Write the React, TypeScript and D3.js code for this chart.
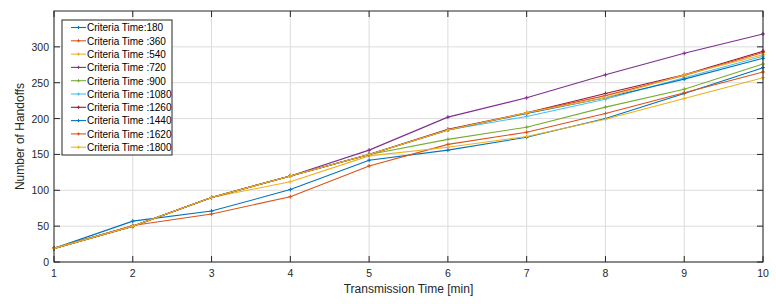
import React from "react";
import * as d3 from "d3";

const xValues = [1, 2, 3, 4, 5, 6, 7, 8, 9, 10];
const seriesNames = [
  "Criteria Time:180",
  "Criteria Time :360",
  "Criteria Time :540",
  "Criteria Time :720",
  "Criteria Time :900",
  "Criteria Time :1080",
  "Criteria Time :1260",
  "Criteria Time :1440",
  "Criteria Time :1620",
  "Criteria Time :1800",
];
const s180 = [19, 57, 71, 101, 142, 156, 174, 200, 235, 271];
const s360 = [19, 51, 67, 91, 134, 164, 181, 207, 236, 265];
const s540 = [19, 50, 90, 112, 148, 160, 175, 199, 228, 257];
const s720 = [19, 50, 90, 120, 156, 202, 229, 261, 291, 318];
const s900 = [19, 50, 90, 120, 150, 171, 188, 216, 241, 276];
const s1080 = [19, 50, 90, 120, 150, 184, 203, 227, 257, 287];
const s1260 = [19, 50, 90, 120, 150, 185, 208, 235, 261, 294];
const s1440 = [19, 50, 90, 120, 150, 184, 207, 229, 255, 284];
const s1620 = [19, 50, 90, 120, 150, 184, 208, 232, 260, 292];
const s1800 = [19, 50, 90, 120, 150, 184, 208, 229, 261, 289];
const seriesValues = [s180, s360, s540, s720, s900, s1080, s1260, s1440, s1620, s1800];
const colors = [
  "#0072BD", "#D95319", "#EDB120", "#7E2F8E", "#77AC30",
  "#4DBEEE", "#A2142F", "#0072BD", "#D95319", "#EDB120",
];
const yTicks = [0, 50, 100, 150, 200, 250, 300];

export default function App() {
  const W = 776, H = 304;
  const left = 54, right = 763, top = 11, bottom = 262;
  const x = d3.scaleLinear().domain([1, 10]).range([left, right]);
  const y = d3.scaleLinear().domain([0, 350]).range([bottom, top]);
  const line = d3.line<number>().x((_, i) => x(xValues[i])).y((d) => y(d));
  const font = "Liberation Sans, Arial, Helvetica, sans-serif";
  const axisColor = "#262626";
  const legX = 62, legY = 20, legW = 110, legRow = 13.3;

  const marker = (cx: number, cy: number, c: string, k: string, r = 2) => (
    <g key={k} stroke={c} strokeWidth={1}>
      <line x1={cx - r} x2={cx + r} y1={cy} y2={cy} />
      <line x1={cx} x2={cx} y1={cy - r} y2={cy + r} />
    </g>
  );

  return (
    <svg width={W} height={H} style={{ position: "absolute", left: 0, top: 0, background: "#fff" }} fontFamily={font}>
      <rect x={0} y={0} width={W} height={H} fill="#fff" />
      {xValues.map((v) => (
        <line key={"gx" + v} x1={x(v)} x2={x(v)} y1={top} y2={bottom} stroke="#dcdcdc" strokeWidth={1} />
      ))}
      {yTicks.map((v) => (
        <line key={"gy" + v} x1={left} x2={right} y1={y(v)} y2={y(v)} stroke="#dcdcdc" strokeWidth={1} />
      ))}
      {seriesValues.map((vals, si) => (
        <g key={"s" + si}>
          <path d={line(vals) || ""} fill="none" stroke={colors[si]} strokeWidth={1.1} />
          {vals.map((v, i) => marker(x(xValues[i]), y(v), colors[si], "m" + si + "_" + i))}
        </g>
      ))}
      <rect x={left} y={top} width={right - left} height={bottom - top} fill="none" stroke={axisColor} strokeWidth={1} />
      {xValues.map((v) => (
        <g key={"tx" + v}>
          <line x1={x(v)} x2={x(v)} y1={bottom} y2={bottom - 6} stroke={axisColor} />
          <line x1={x(v)} x2={x(v)} y1={top} y2={top + 6} stroke={axisColor} />
          <text x={x(v)} y={bottom + 15} textAnchor="middle" fontSize={10.5} fill={axisColor}>{v}</text>
        </g>
      ))}
      {yTicks.map((v) => (
        <g key={"ty" + v}>
          <line x1={left} x2={left + 6} y1={y(v)} y2={y(v)} stroke={axisColor} />
          <line x1={right} x2={right - 6} y1={y(v)} y2={y(v)} stroke={axisColor} />
          <text x={left - 5} y={y(v) + 4} textAnchor="end" fontSize={10.5} fill={axisColor}>{v}</text>
        </g>
      ))}
      <text x={(left + right) / 2} y={293} textAnchor="middle" fontSize={12} fill={axisColor}>Transmission Time [min]</text>
      <text transform={`translate(24, ${(top + bottom) / 2}) rotate(-90)`} textAnchor="middle" fontSize={12} fill={axisColor}>Number of Handoffs</text>
      <rect x={legX} y={legY} width={legW} height={legRow * 10 + 2} fill="#fff" stroke={axisColor} strokeWidth={1} />
      {seriesNames.map((n, i) => {
        const cy = legY + 7.5 + i * legRow;
        return (
          <g key={"l" + i}>
            <line x1={legX + 9} x2={legX + 24} y1={cy} y2={cy} stroke={colors[i]} strokeWidth={1.1} />
            {marker(legX + 16.5, cy, colors[i], "lm" + i, 1.5)}
            <text x={legX + 25} y={cy + 3.8} fontSize={10} fill="#000">{n}</text>
          </g>
        );
      })}
    </svg>
  );
}
